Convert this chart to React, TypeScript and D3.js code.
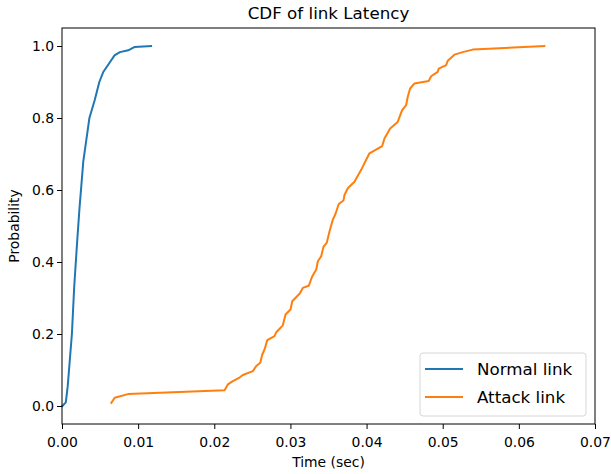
import { useRef, useEffect } from 'react'
import * as d3 from 'd3'

const WIDTH = 611
const HEIGHT = 474
const MARGIN = { top: 28, right: 16, bottom: 50, left: 62 }

// Normal link latency CDF (sec, probability)
const normalX = [0.00005, 0.0005, 0.00075, 0.0013, 0.0016, 0.002, 0.0023, 0.0028, 0.0032, 0.0036, 0.0043, 0.0049, 0.0054, 0.006, 0.0069, 0.0076, 0.0087, 0.0095, 0.0117]
const normalY = [0.0, 0.01, 0.055, 0.2, 0.33, 0.46, 0.55, 0.68, 0.74, 0.8, 0.85, 0.9, 0.927, 0.946, 0.974, 0.983, 0.988, 0.997, 1.0]

// Attack link latency CDF
const attackX = [
  0.00648, 0.00692, 0.00866, 0.02135, 0.02178, 0.02244, 0.02332, 0.02375, 0.02507, 0.02551,
  0.02604, 0.0263, 0.0266, 0.02696, 0.02791, 0.02814, 0.029, 0.02936, 0.03001, 0.03024,
  0.0312, 0.03163, 0.03241, 0.03286, 0.03339, 0.0336, 0.03404, 0.03434, 0.03478, 0.03513,
  0.03556, 0.03592, 0.03635, 0.03697, 0.0371, 0.03753, 0.03841, 0.03929, 0.04038, 0.04205,
  0.04235, 0.0431, 0.04409, 0.04467, 0.0452, 0.04541, 0.04572, 0.04629, 0.04816, 0.04848,
  0.04934, 0.04948, 0.05045, 0.05066, 0.05154, 0.05262, 0.05394, 0.06335,
]
const attackY = [
  0.009, 0.023, 0.033, 0.0435, 0.06, 0.069, 0.079, 0.086, 0.097, 0.111,
  0.12, 0.143, 0.157, 0.183, 0.194, 0.205, 0.224, 0.254, 0.268, 0.291,
  0.312, 0.328, 0.334, 0.36, 0.379, 0.402, 0.416, 0.442, 0.454, 0.485,
  0.517, 0.534, 0.561, 0.571, 0.586, 0.605, 0.623, 0.656, 0.702, 0.722,
  0.743, 0.771, 0.789, 0.822, 0.836, 0.859, 0.882, 0.896, 0.903, 0.916,
  0.928, 0.937, 0.947, 0.959, 0.976, 0.983, 0.99, 1.0,
]

const xTicks = [0, 0.01, 0.02, 0.03, 0.04, 0.05, 0.06, 0.07]
const yTicks = [0, 0.2, 0.4, 0.6, 0.8, 1.0]

const series = [
  { name: 'Normal link', xs: normalX, ys: normalY, color: '#1f77b4' },
  { name: 'Attack link', xs: attackX, ys: attackY, color: '#ff7f0e' },
]

const FONT = 'DejaVu Sans, sans-serif'

export default function App() {
  const svgRef = useRef<SVGSVGElement>(null)

  useEffect(() => {
    if (!svgRef.current) return
    const innerWidth = WIDTH - MARGIN.left - MARGIN.right
    const innerHeight = HEIGHT - MARGIN.top - MARGIN.bottom

    const svg = d3.select(svgRef.current)
    svg.selectAll('*').remove()
    svg.attr('width', WIDTH).attr('height', HEIGHT)
    svg.append('rect').attr('width', WIDTH).attr('height', HEIGHT).attr('fill', '#fff')

    const g = svg.append('g').attr('transform', `translate(${MARGIN.left},${MARGIN.top})`)

    const xScale = d3.scaleLinear().domain([0, 0.07]).range([0, innerWidth])
    const yScale = d3.scaleLinear().domain([-0.05, 1.05]).range([innerHeight, 0])

    // lines
    const line = d3
      .line<[number, number]>()
      .x((d) => xScale(d[0]))
      .y((d) => yScale(d[1]))

    for (const s of series) {
      const pts = s.xs.map((x, i) => [x, s.ys[i]] as [number, number])
      g.append('path')
        .datum(pts)
        .attr('d', line)
        .attr('fill', 'none')
        .attr('stroke', s.color)
        .attr('stroke-width', 2)
        .attr('stroke-linejoin', 'round')
        .attr('stroke-linecap', 'square')
    }

    // axes
    g.append('g')
      .attr('transform', `translate(0,${innerHeight})`)
      .call(d3.axisBottom(xScale).tickValues(xTicks).tickFormat(d3.format('.2f')).tickSize(5).tickSizeOuter(0))
      .call((axis) => {
        axis.select('.domain').remove()
        axis.selectAll('.tick line').attr('stroke', '#000').attr('stroke-width', 1)
        axis.selectAll('text').attr('fill', '#000').attr('dy', '1.05em').style('font-size', '13.9px').style('font-family', FONT)
      })

    g.append('g')
      .call(d3.axisLeft(yScale).tickValues(yTicks).tickFormat(d3.format('.1f')).tickSize(5).tickSizeOuter(0))
      .call((axis) => {
        axis.select('.domain').remove()
        axis.selectAll('.tick line').attr('stroke', '#000').attr('stroke-width', 1)
        axis.selectAll('text').attr('fill', '#000').attr('x', -8).style('font-size', '13.9px').style('font-family', FONT)
      })

    // frame
    g.append('rect')
      .attr('width', innerWidth)
      .attr('height', innerHeight)
      .attr('fill', 'none')
      .attr('stroke', '#000')
      .attr('stroke-width', 1)

    // labels
    svg.append('text')
      .attr('x', MARGIN.left + innerWidth / 2)
      .attr('y', 19)
      .attr('text-anchor', 'middle')
      .style('font-size', '16.7px')
      .style('font-family', FONT)
      .text('CDF of link Latency')

    svg.append('text')
      .attr('x', MARGIN.left + innerWidth / 2)
      .attr('y', 467)
      .attr('text-anchor', 'middle')
      .style('font-size', '13.9px')
      .style('font-family', FONT)
      .text('Time (sec)')

    svg.append('text')
      .attr('transform', `translate(19,${MARGIN.top + innerHeight / 2}) rotate(-90)`)
      .attr('text-anchor', 'middle')
      .style('font-size', '13.9px')
      .style('font-family', FONT)
      .text('Probability')

    // legend
    const lg = svg.append('g').attr('transform', 'translate(420,353)')
    lg.append('rect')
      .attr('width', 166)
      .attr('height', 63)
      .attr('rx', 3)
      .attr('fill', 'rgba(255,255,255,0.8)')
      .attr('stroke', '#d6d6d6')
    series.forEach((s, i) => {
      const y = 16 + i * 28
      lg.append('line')
        .attr('x1', 5).attr('x2', 43)
        .attr('y1', y).attr('y2', y)
        .attr('stroke', s.color)
        .attr('stroke-width', 2)
      lg.append('text')
        .attr('x', 57)
        .attr('y', y + 6)
        .style('font-size', '16.7px')
        .style('font-family', FONT)
        .attr('fill', '#000')
        .text(s.name)
    })
  }, [])

  return <svg ref={svgRef} style={{ position: 'absolute', left: 0, top: 0 }} />
}
